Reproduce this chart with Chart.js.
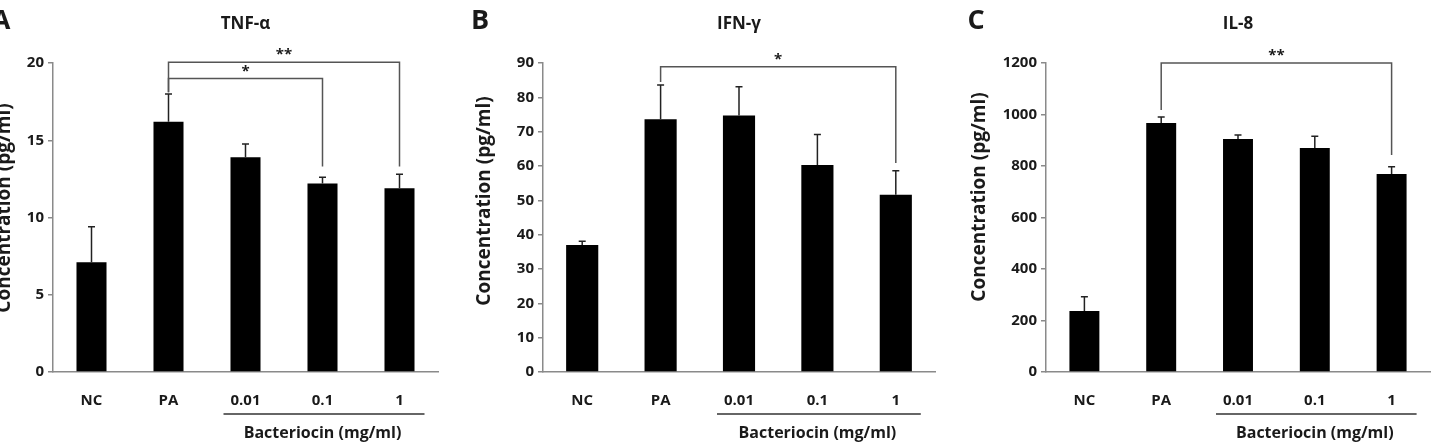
<!DOCTYPE html>
<html>
<head>
<meta charset="utf-8">
<title>Cytokine concentrations</title>
<script src="https://cdn.jsdelivr.net/npm/chart.js@4"></script>
<style>
  body { margin: 0; background: #fff; }
  .panel { position: absolute; top: 0; height: 442px; }
</style>
</head>
<body>
<div class="panel" id="wrapA" style="left:0;width:470px"><canvas id="chartA"></canvas></div>
<div class="panel" id="wrapB" style="left:470px;width:480px"><canvas id="chartB"></canvas></div>
<div class="panel" id="wrapC" style="left:950px;width:482px"><canvas id="chartC"></canvas></div>
<script>
"use strict";

// Data
const categories = ["NC", "PA", "0.01", "0.1", "1"];

const tnfMeans = [7.1, 16.2, 13.9, 12.2, 11.9];
const tnfErrors = [2.3, 1.8, 0.85, 0.4, 0.9];
const tnfTicks = [0, 5, 10, 15, 20];

const ifnMeans = [37.0, 73.6, 74.7, 60.3, 51.6];
const ifnErrors = [1.1, 10.0, 8.4, 8.9, 7.0];
const ifnTicks = [0, 10, 20, 30, 40, 50, 60, 70, 80, 90];

const il8Means = [237, 967, 905, 870, 769];
const il8Errors = [55, 23, 15, 46, 28];
const il8Ticks = [0, 200, 400, 600, 800, 1000, 1200];

// significance brackets: bar indexes, bracket level and leg ends (data units)
const tnfBrackets = [
  { from: 1, to: 4, level: 20.05, fromEnd: 18.1, toEnd: 13.3, label: "**" },
  { from: 1, to: 3, level: 19.0, fromEnd: 18.1, toEnd: 13.3, label: "*" },
];
const ifnBrackets = [
  { from: 1, to: 4, level: 88.9, fromEnd: 84.5, toEnd: 60.9, label: "*" },
];
const il8Brackets = [
  { from: 1, to: 4, level: 1200, fromEnd: 1017, toEnd: 843, label: "**" },
];

const groupLabel = "Bacteriocin (mg/ml)";
const yLabel = "Concentration (pg/ml)";

const FONT = "'Open Sans', 'Noto Sans', sans-serif";
const TEXT = "#1a1a1a";
const AXIS = "#8a8a8a";

// Panels (absolute page positions of each plot)
const panels = [
  {
    canvas: "chartA", pageLeft: 0, width: 470, plotLeft: 53, plotRight: 438,
    letter: "A", letterX: 1, title: "TNF-\u03b1", yTitleX: 5, yTitleY: 208,
    means: tnfMeans, errors: tnfErrors, ticks: tnfTicks, brackets: tnfBrackets, barPct: 0.39,
  },
  {
    canvas: "chartB", pageLeft: 470, width: 480, plotLeft: 543, plotRight: 935,
    letter: "B", letterX: 480, title: "IFN-\u03b3", yTitleX: 485, yTitleY: 201,
    means: ifnMeans, errors: ifnErrors, ticks: ifnTicks, brackets: ifnBrackets, barPct: 0.41,
  },
  {
    canvas: "chartC", pageLeft: 950, width: 482, plotLeft: 1046, plotRight: 1430,
    letter: "C", letterX: 976, title: "IL-8", yTitleX: 980, yTitleY: 197,
    means: il8Means, errors: il8Errors, ticks: il8Ticks, brackets: il8Brackets, barPct: 0.39,
  },
];

// Error bars, brackets and extra labels
const annotate = {
  id: "annotate",
  afterDatasetsDraw(chart, args, opts) {
    const p = opts.panel;
    const ctx = chart.ctx;
    const y = chart.scales.y;
    const bars = chart.getDatasetMeta(0).data;
    ctx.save();

    // error bars (upper only)
    ctx.strokeStyle = "#222";
    ctx.lineWidth = 1.5;
    bars.forEach((bar, i) => {
      const top = y.getPixelForValue(p.means[i] + p.errors[i]);
      ctx.beginPath();
      ctx.moveTo(bar.x, bar.y);
      ctx.lineTo(bar.x, top);
      ctx.moveTo(bar.x - 3.5, top);
      ctx.lineTo(bar.x + 3.5, top);
      ctx.stroke();
    });

    // significance brackets
    ctx.strokeStyle = "#555";
    ctx.lineWidth = 1.5;
    ctx.fillStyle = TEXT;
    ctx.font = "bold 15px " + FONT;
    ctx.textAlign = "center";
    ctx.textBaseline = "middle";
    p.brackets.forEach((b) => {
      const x1 = bars[b.from].x;
      const x2 = bars[b.to].x;
      const lv = y.getPixelForValue(b.level);
      ctx.beginPath();
      ctx.moveTo(x1, y.getPixelForValue(b.fromEnd));
      ctx.lineTo(x1, lv);
      ctx.lineTo(x2, lv);
      ctx.lineTo(x2, y.getPixelForValue(b.toEnd));
      ctx.stroke();
      ctx.fillText(b.label, (x1 + x2) / 2, lv - 7);
    });

    // group underline and label
    const a = bars[2].x;
    const c = bars[4].x;
    const base = y.getPixelForValue(0);
    ctx.strokeStyle = "#666";
    ctx.lineWidth = 2;
    ctx.beginPath();
    ctx.moveTo(a - 22, base + 42);
    ctx.lineTo(c + 25, base + 42);
    ctx.stroke();
    ctx.font = "bold 16px " + FONT;
    ctx.fillText(groupLabel, (a + c) / 2, base + 61);

    // title, panel letter, y title
    const off = p.pageLeft;
    ctx.font = "bold 17px " + FONT;
    ctx.fillText(p.title, (chart.chartArea.left + chart.chartArea.right) / 2, 24);
    ctx.font = "bold 27px " + FONT;
    ctx.fillText(p.letter, p.letterX - off, 21);
    ctx.translate(p.yTitleX - off, p.yTitleY);
    ctx.rotate(-Math.PI / 2);
    ctx.font = "bold 19px " + FONT;
    ctx.fillText(yLabel, 0, 0);
    ctx.restore();
  },
};

panels.forEach((p) => {
  new Chart(document.getElementById(p.canvas), {
    type: "bar",
    data: {
      labels: categories,
      datasets: [
        {
          data: p.means,
          backgroundColor: "#000",
          borderWidth: 0,
          barPercentage: p.barPct,
          categoryPercentage: 1,
        },
      ],
    },
    options: {
      responsive: true,
      maintainAspectRatio: false,
      animation: false,
      layout: { padding: { top: 63, right: p.pageLeft + p.width - p.plotRight, left: 0, bottom: 0 } },
      plugins: {
        legend: { display: false },
        tooltip: { enabled: false },
        annotate: { panel: p },
      },
      scales: {
        x: {
          grid: { display: false },
          border: { color: AXIS, width: 1.5 },
          ticks: { color: TEXT, font: { family: FONT, size: 15, weight: "bold" }, padding: 12 },
          afterFit: (s) => { s.height = 70; },
        },
        y: {
          min: 0,
          max: p.ticks[p.ticks.length - 1],
          afterBuildTicks: (s) => { s.ticks = p.ticks.map((v) => ({ value: v })); },
          grid: { drawOnChartArea: false, tickLength: 5, color: AXIS, lineWidth: 1.5 },
          border: { color: AXIS, width: 1.5 },
          ticks: {
            color: TEXT,
            font: { family: FONT, size: 15, weight: "bold" },
            padding: 4,
            callback: (v) => String(v),
          },
          afterFit: (s) => { s.width = p.plotLeft - p.pageLeft; },
        },
      },
    },
    plugins: [annotate],
  });
});
</script>
</body>
</html>
